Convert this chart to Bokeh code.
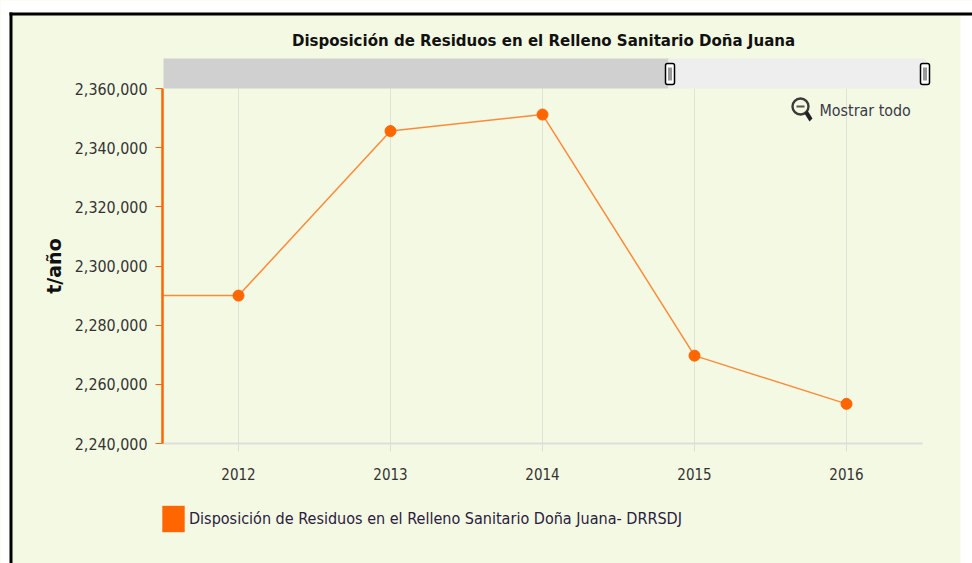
from bokeh.plotting import figure
from bokeh.models import (Range1d, BoxAnnotation, PolyAnnotation, Label, FixedTicker,
                          Legend, LegendItem, NumeralTickFormatter)
from bokeh.embed import file_html
from bokeh.resources import INLINE

TITLE = "Disposición de Residuos en el Relleno Sanitario Doña Juana"
SERIES = "Disposición de Residuos en el Relleno Sanitario Doña Juana- DRRSDJ"
YLABEL = "t/año"
ZOOM_TEXT = "Mostrar todo"
years = [2012, 2013, 2014, 2015, 2016]
values = [2290000, 2345600, 2351200, 2269700, 2253400]
y_ticks = [2240000, 2260000, 2280000, 2300000, 2320000, 2340000, 2360000]
x_lo, x_hi = 2011.5, 2016.5

ORANGE = "#ff6600"
FONT = "DejaVu Sans Condensed"
BG = "#f4f9e3"
W, H = 972, 563
L, R, T, B = 162, 922, 88, 443

# The plot area spans the whole canvas; axes sit at fixed data locations.
sx = (x_hi - x_lo) / (R - L)
sy = (y_ticks[-1] - y_ticks[0]) / (B - T)
x_range = Range1d(x_lo - L * sx, x_hi + (W - R) * sx)
y_range = Range1d(y_ticks[0] - (H - B) * sy, y_ticks[-1] + T * sy)

p = figure(width=W, height=H, output_backend="svg", toolbar_location=None,
           x_range=x_range, y_range=y_range,
           min_border=0, min_border_left=0, min_border_right=0, min_border_top=0, min_border_bottom=0,
           background_fill_color=BG, border_fill_color=BG, outline_line_color=None)


def box(x0, y0, x1, y1, fill, **kw):
    p.add_layout(BoxAnnotation(left=x0, right=x1, top=H - y0, bottom=H - y1,
                               left_units="screen", right_units="screen",
                               top_units="screen", bottom_units="screen",
                               fill_color=fill, fill_alpha=1,
                               line_color=kw.pop("line_color", None), line_alpha=1,
                               line_width=kw.pop("line_width", 1), editable=False, **kw))


# grid lines, limited to the plotted band
p.xgrid.visible = False
p.ygrid.visible = False
p.segment(years, [y_ticks[0]] * len(years), years, [y_ticks[-1]] * len(years),
          line_color="#dfe3d6", line_width=1)

# page surround
box(0, 0, W, 12, "#ffffff")
box(0, 12, 9, H, "#ffffff")
box(960, 15, W, H, "#ffffff")
box(9, 12, W, 15, "#000000")
box(9, 12, 12, H, "#000000")

# scrollbar
box(163, 58, 668, 88, "#d0d0d0")
box(668, 58, 925, 88, "#eeeeee")
for hx in (665, 920):
    box(hx, 63, hx + 9, 84, "#ffffff", line_color="#000000", line_width=1.5, border_radius=2)
    box(hx + 3, 67, hx + 4, 80, "#333333")
    box(hx + 5, 67, hx + 6, 80, "#333333")

# zoom icon
box(792, 98, 808, 114, None, line_color="#3a3a3a", line_width=2.4, border_radius=8)
box(796, 105, 804, 107, "#555555")
p.add_layout(PolyAnnotation(xs=[804, 807, 812, 809], ys=[H - 113, H - 110, H - 118, H - 121],
                            xs_units="screen", ys_units="screen",
                            fill_color="#222222", fill_alpha=1, line_color=None, editable=False))
p.add_layout(Label(x=819, y=H - 110, x_units="screen", y_units="screen", text=ZOOM_TEXT,
                   text_font=FONT, text_font_size="15.9px", text_color="#3a3a4a", text_baseline="middle"))

p.add_layout(Label(x=543, y=H - 39, x_units="screen", y_units="screen", text=TITLE,
                   text_font=FONT, text_font_size="16.7px", text_font_style="bold",
                   text_color="#111111", text_align="center", text_baseline="middle"))

ax = p.xaxis[0]
ax.fixed_location = y_ticks[0]
ax.bounds = (x_lo, x_hi)
ax.ticker = FixedTicker(ticks=years)
ax.formatter = NumeralTickFormatter(format="0")
ax.axis_line_color = "#dcdedb"
ax.axis_line_width = 2
ax.major_tick_line_color = "#dcdedb"
ax.major_tick_in = 0
ax.major_tick_out = 8
ax.minor_tick_line_color = None
ax.major_label_standoff = 16
ax.major_label_text_font = FONT
ax.major_label_text_font_size = "15px"
ax.major_label_text_color = "#333333"

ay = p.yaxis[0]
ay.fixed_location = x_lo
ay.bounds = (y_ticks[0], y_ticks[-1])
ay.ticker = FixedTicker(ticks=y_ticks)
ay.formatter = NumeralTickFormatter(format="0,0")
ay.axis_line_color = ORANGE
ay.axis_line_width = 2.5
ay.major_tick_line_color = ORANGE
ay.major_tick_in = 0
ay.major_tick_out = 7
ay.minor_tick_line_color = None
ay.major_label_standoff = 8
ay.major_label_text_font = FONT
ay.major_label_text_font_size = "15.9px"
ay.major_label_text_color = "#333333"
ay.axis_label = YLABEL
ay.axis_label_text_font = "DejaVu Sans"
ay.axis_label_text_font_size = "19px"
ay.axis_label_text_font_style = "bold"
ay.axis_label_text_color = "#111111"
ay.axis_label_standoff = 7

# series
p.line([x_lo] + years, [values[0]] + values, line_color=ORANGE, line_width=1.5, line_alpha=0.75)
p.scatter(years, values, size=11, fill_color=ORANGE, line_color=ORANGE)
swatch = p.quad(left=years[:1], right=years[:1], top=values[:1], bottom=values[:1],
                fill_color=ORANGE, line_color=None)
legend = Legend(items=[LegendItem(label=SERIES, renderers=[swatch], index=0)], location=(159, H - 535),
                glyph_width=28, glyph_height=33, background_fill_alpha=0, border_line_color=None,
                label_text_font=FONT, label_text_font_size="16.05px", label_text_color="#2a2040",
                label_standoff=2, padding=0, margin=0)
p.add_layout(legend, "center")

open("out.html", "w").write(file_html(p, INLINE))
